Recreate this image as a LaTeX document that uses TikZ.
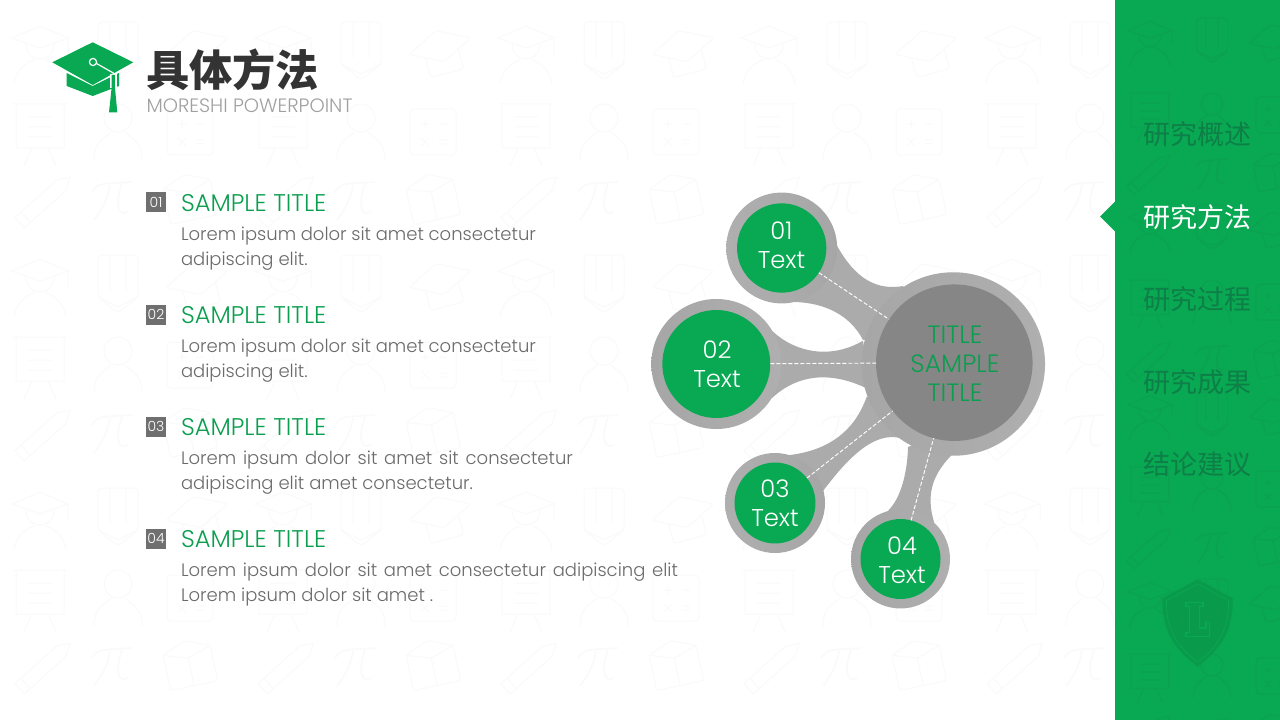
\documentclass[tikz,border=0pt]{standalone}
\usepackage{fontspec}
\setmainfont{Poppins Light}
\newfontfamily\cjk{Noto Sans CJK SC}
\definecolor{gr}{HTML}{09A853}
\definecolor{grt}{HTML}{0A9E4F}
\definecolor{grd}{HTML}{0D7F47}
\definecolor{patl}{HTML}{FAFAFA}
\definecolor{patg}{HTML}{0BA251}
\definecolor{armc}{HTML}{ABABAB}
\definecolor{hubc}{HTML}{868686}
\definecolor{bodyc}{HTML}{6A6A6A}
\definecolor{shc}{HTML}{099A4C}
\definecolor{ttlc}{HTML}{333333}
\definecolor{subc}{HTML}{A0A0A0}
\definecolor{numc}{HTML}{6F6F6F}
\definecolor{rda}{HTML}{A6A6A6}
\definecolor{rdb}{HTML}{AFAFAF}
\tikzset{
 every node/.style={inner sep=0pt,outer sep=0pt},
 icA/.pic={\draw (-28,-12)--(0,-24)--(28,-12)--(0,-2)--cycle (-14,-6) .. controls (-14,14) and (14,14) .. (14,-6)
   (-26,34) .. controls (-24,18) and (-12,12) .. (-6,10) (26,34) .. controls (24,18) and (12,12) .. (6,10) (28,-12)--(28,4);},
 icB/.pic={\draw[rounded corners=3] (-20,-28)--(20,-28)--(20,14)--(0,30)--(-20,14)--cycle;\draw (-8,-28)--(-8,8) (8,-28)--(8,8) (-20,14)--(0,24)--(20,14);},
 icC/.pic={\draw[rotate=15,rounded corners=2] (-32,-4)--(0,-20)--(32,-4)--(0,12)--cycle (-17,4)--(-17,24)--(17,24)--(17,4);},
 icD/.pic={\draw (-24,-28) rectangle (24,16) (-27,-28)--(27,-28) (-12,-15)--(12,-15) (-12,-5)--(12,-5) (-12,5)--(12,5) (-8,16)--(-16,34) (8,16)--(16,34);},
 icE/.pic={\draw (0,-14) circle (14) (-24,28) .. controls (-24,8) and (-12,6) .. (-7,0) (24,28) .. controls (24,8) and (12,6) .. (7,0);},
 icF/.pic={\draw[rounded corners=3] (-23,-23) rectangle (23,23);\draw (-12,-8)--(-4,-8) (-8,-12)--(-8,-4) (6,-8)--(14,-8) (-12,6)--(-4,14) (-4,6)--(-12,14) (6,8)--(14,8) (6,12)--(14,12);},
 icG/.pic={\draw[rotate=42] (-34,-7)--(22,-7)--(34,0)--(22,7)--(-34,7)--cycle (-26,-7)--(-26,7);},
 icH/.pic={\draw[line width=1.2pt] (-20,-8) .. controls (-14,-18) and (-8,-16) .. (20,-18) (-2,-15) .. controls (-4,0) and (-12,12) .. (-18,20) (10,-16) .. controls (4,0) and (4,18) .. (16,12);},
 icJ/.pic={\draw[rotate=12,rounded corners=2] (-24,-16)--(0,-26)--(24,-16)--(24,20)--(-24,20)--cycle (-24,-16)--(0,-8)--(24,-16) (0,-8)--(0,20);},
}
\begin{document}
\begin{tikzpicture}[x=0.75pt,y=-0.75pt]
\useasboundingbox (0,0) rectangle (1280,720);
\fill[white] (0,0) rectangle (1280,720);
% faint wallpaper
\begin{scope}
\clip (0,0) rectangle (1115,720);
\begin{scope}[color=patl,line width=0.75pt]
\foreach \kx in {0,...,4}{\foreach \ky in {0,...,3}{
 \pic at ({40+243*\kx},{50+233*\ky}) {icA};
 \pic at ({118+243*\kx},{50+233*\ky}) {icB};
 \pic at ({198+243*\kx},{50+233*\ky}) {icC};
 \pic at ({40+243*\kx},{132+233*\ky}) {icD};
 \pic at ({118+243*\kx},{132+233*\ky}) {icE};
 \pic at ({190+243*\kx},{132+233*\ky}) {icF};
 \pic at ({45+243*\kx},{200+233*\ky}) {icG};
 \pic at ({112+243*\kx},{200+233*\ky}) {icH};
 \pic at ({190+243*\kx},{200+233*\ky}) {icJ};
}}
\end{scope}
\end{scope}
% sidebar
\fill[gr] (1115,0) rectangle (1280,720);
\fill[gr] (1100,216.5)--(1115,201.5)--(1115,231.5)--cycle;
\begin{scope}
\clip (1115,0) rectangle (1280,720);
\begin{scope}[color=patg,line width=0.9pt]
\foreach \ky in {0,...,3}{
 \pic[scale=.78] at (1150,{40+187*\ky}) {icA};
 \pic[scale=.78] at (1212,{40+187*\ky}) {icB};
 \pic[scale=.78] at (1274,{40+187*\ky}) {icC};
 \pic[scale=.78] at (1150,{115+187*\ky}) {icD};
 \pic[scale=.78] at (1212,{115+187*\ky}) {icE};
 \pic[scale=.78] at (1274,{115+187*\ky}) {icF};
 \pic[scale=.78] at (1150,{173+187*\ky}) {icG};
 \pic[scale=.78] at (1212,{173+187*\ky}) {icH};
 \pic[scale=.78] at (1274,{173+187*\ky}) {icJ};
}
\end{scope}
\end{scope}
% shield
\fill[shc] (1197.7,579.3)--(1232.7,598.3) .. controls (1233,630) and (1222,648) .. (1197.7,666.7) .. controls (1173,648) and (1162,630) .. (1162.3,598.3)--cycle;
\draw[color=gr,line width=.6pt] (1197.7,584)--(1228.5,600.5) .. controls (1229,628) and (1219,646) .. (1197.7,662) .. controls (1176,646) and (1166,628) .. (1166.5,600.5)--cycle;
\draw[color=gr,line width=.8pt] (1186,602.5)--(1203,602.5)--(1203,606.5)--(1199.5,606.5)--(1199.5,628)--(1206,628)--(1206,622.5)--(1209.5,622.5)--(1209.5,636.5)--(1186,636.5)--(1186,632.5)--(1189.5,632.5)--(1189.5,606.5)--(1186,606.5)--cycle;
% sidebar labels
\tikzset{sidel/.style={font=\cjk\fontsize{20.25}{24}\selectfont,anchor=center}}
\node[sidel,text=grd] (s1) at (1197,134) {研究概述};
\node[sidel,text=white] (s2) at (1197,217) {研究方法};
\node[sidel,text=grd] (s3) at (1197,299) {研究过程};
\node[sidel,text=grd] (s4) at (1197,382) {研究成果};
\node[sidel,text=grd] (s5) at (1197,464) {结论建议};
% logo
\fill[gr] (66.7,73)--(92.7,86)--(119,73)--(119,86)--(92.7,96)--(66.7,86)--cycle;
\fill[gr] (92.7,42.3)--(133.3,62.3)--(92.7,85)--(52.3,62.3)--cycle;
\draw[white,line width=.9pt] (96.5,63.5)--(113.3,73)--(113.3,85);
\draw[white,line width=.9pt] (93,62) circle (3.6);
\fill[white] (110,74) rectangle (116.5,88);
\fill[gr] (111.7,75)--(114.9,75)--(114.9,87)--(117.3,112.3)--(109,112.3)--(111.7,87)--cycle;
\node[anchor=west,font=\cjk\bfseries\fontsize{32.4}{36}\selectfont,text=ttlc] (ttl) at (146,70) {具体方法};
\node[anchor=west,font=\fontsize{14.5}{16}\selectfont,text=subc] (sub) at (146.5,106) {MORESHI POWERPOINT};
% list
\tikzset{
 numb/.style={fill=numc,text=white,minimum width=15pt,minimum height=15pt,font=\fontsize{10.5}{11}\selectfont,anchor=center},
 ttlb/.style={anchor=west,text=grt,font=\fontsize{18.1}{20}\selectfont},
 bodyl/.style={anchor=west,text=bodyc,font=\fontsize{13.5}{16}\selectfont},
}
\node[numb] (n1) at (156,202.5) {01};
\node[ttlb] (t1) at (181,203) {SAMPLE TITLE};
\node[bodyl] (b1a) at (181,236) {\makebox[266.25pt][s]{Lorem ipsum dolor sit amet consectetur}};
\node[bodyl] (b1b) at (181,261) {adipiscing elit.};
\node[numb] (n2) at (156,314.5) {02};
\node[ttlb] (t2) at (181,315) {SAMPLE TITLE};
\node[bodyl] (b2a) at (181,348) {\makebox[266.25pt][s]{Lorem ipsum dolor sit amet consectetur}};
\node[bodyl] (b2b) at (181,373) {adipiscing elit.};
\node[numb] (n3) at (156,426.5) {03};
\node[ttlb] (t3) at (181,427) {SAMPLE TITLE};
\node[bodyl] (b3a) at (181,460) {\makebox[294pt][s]{Lorem ipsum dolor sit amet sit consectetur}};
\node[bodyl] (b3b) at (181,485) {adipiscing elit amet consectetur.};
\node[numb] (n4) at (156,538.5) {04};
\node[ttlb] (t4) at (181,539) {SAMPLE TITLE};
\node[bodyl] (b4a) at (181,572) {\makebox[372.75pt][s]{Lorem ipsum dolor sit amet consectetur adipiscing elit}};
\node[bodyl] (b4b) at (181,597) {Lorem ipsum dolor sit amet .};
% arms
\fill[armc] (832,236) -- (835.7,243.3) .. controls (850,270) and (870,292) .. (903,286) -- (925,330) -- (863,340) .. controls (850,315) and (825,303) .. (795,302) -- (790,290) -- cycle;
\fill[armc] (760,325) -- (773,331.7) .. controls (795,352) and (830,360) .. (863,340.7) -- (870,390) .. controls (835,372) and (800,372) .. (772,398) -- (760,400) -- cycle;
\fill[armc] (866.7,396.7) .. controls (855,430) and (830,450) .. (790,455) -- (785,480) -- (815,490) -- (823,491) .. controls (850,455) and (875,432) .. (900,438) -- (920,400) -- cycle;
\fill[armc] (908,447) .. controls (907,480) and (898,502) .. (886.7,512) -- (900,530) -- (934,522) .. controls (926,495) and (932,475) .. (951.7,455) -- (950,430) -- cycle;
% rings
\tikzset{
 ringb/.style={circle,left color=rda,right color=rdb},
 ringc/.style={circle,left color=rdb,right color=rda},
 dot/.style={circle,fill=gr},
 dott/.style={text=white,align=center,font=\fontsize{18.2}{21.6}\selectfont},
}
\node[ringb,minimum size=137.6pt] (rh) at (953.3,364) {};
\node[ringc,minimum size=83.2pt] (r1) at (781.7,248) {};
\node[ringb,minimum size=97.5pt] (r2) at (716.3,364) {};
\node[ringc,minimum size=75pt] (r3) at (775,503) {};
\node[ringb,minimum size=74.2pt] (r4) at (900.5,559) {};
\node[circle,fill=hubc,minimum size=117.4pt] (hub) at (954.3,362.7) {};
\node[dot,minimum size=67pt] (c1) at (781.7,248) {};
\node[dot,minimum size=81pt] (c2) at (716.3,364) {};
\node[dot,minimum size=60.7pt] (c3) at (775,503) {};
\node[dot,minimum size=60pt] (c4) at (900.5,559) {};
\node[text=grt,align=center,font=\fontsize{18.8}{21.6}\selectfont] (hubt) at (955,363.5) {TITLE\\SAMPLE\\TITLE};
\node[dott] (c1t) at (781.5,245) {01\\Text};
\node[dott] (c2t) at (717,364) {02\\Text};
\node[dott] (c3t) at (775,503) {03\\Text};
\node[dott] (c4t) at (902,560) {04\\Text};
% dashed connectors
\tikzset{dashl/.style={draw=white,line width=.7pt,dash pattern=on 3pt off 1.5pt}}
\draw[dashl] (c1) -- (hub);
\draw[dashl] (c2) -- (hub);
\draw[dashl] (c3) -- (hub);
\draw[dashl] (c4) -- (hub);
\end{tikzpicture}
\end{document}
